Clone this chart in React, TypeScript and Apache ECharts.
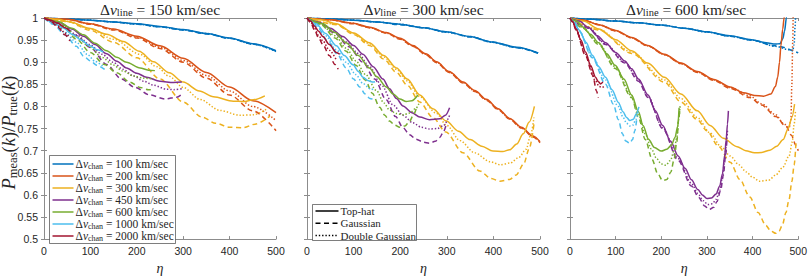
import React, { useEffect, useRef } from "react";
import * as echarts from "echarts";

// ---------- categories / labels ----------
const LINE_SPEEDS = [150, 300, 600];
const CHAN_SPEEDS = [100, 200, 300, 450, 600, 1000, 2000];
const PROFILE_NAMES = ["Top-hat", "Gaussian", "Double Gaussian"];
const X_MIN = 0, X_MAX = 500, X_STEP = 100;
const Y_MIN = 0.5, Y_MAX = 1, Y_STEP = 0.05;

// ---------- data: [eta, Pmeas/Ptrue]  (TH = top-hat, G = Gaussian, DG = double Gaussian) ----------
// Δv_line = 150 km/sec
const L150_C100_TH = [[0,1],[50,0.998],[100,0.995],[150,0.991],[200,0.987],[250,0.981],[300,0.974],[350,0.965],[400,0.955],[450,0.942],[500,0.926]];
const L150_C100_G = [[0,1],[50,0.998],[100,0.995],[150,0.991],[200,0.986],[250,0.98],[300,0.973],[350,0.964],[400,0.954],[450,0.941],[500,0.925]];
const L150_C100_DG = [[0,1],[50,0.998],[100,0.995],[150,0.991],[200,0.986],[250,0.98],[300,0.973],[350,0.965],[400,0.954],[450,0.941],[500,0.924]];
const L150_C200_TH = [[0,1],[50,0.997],[100,0.987],[150,0.975],[200,0.959],[250,0.937],[300,0.909],[350,0.877],[400,0.844],[450,0.813],[500,0.786]];
const L150_C200_G = [[0,1],[50,0.997],[100,0.986],[150,0.973],[200,0.955],[250,0.931],[300,0.9],[350,0.864],[400,0.826],[450,0.79],[500,0.745]];
const L150_C200_DG = [[0,1],[50,0.997],[100,0.987],[150,0.974],[200,0.957],[250,0.934],[300,0.904],[350,0.87],[400,0.835],[450,0.8],[500,0.768]];
const L150_C300_TH = [[0,1],[30,0.997],[56,0.991],[100,0.976],[135,0.963],[171,0.947],[205,0.925],[236,0.901],[270,0.876],[300,0.855],[335,0.835],[365,0.822],[408,0.812],[430,0.811],[451,0.815],[476,0.824]];
const L150_C300_G = [[0,1],[50,0.992],[100,0.972],[150,0.945],[200,0.91],[250,0.862],[300,0.81],[340,0.776],[370,0.762],[400,0.753],[430,0.752],[455,0.76],[487,0.778]];
const L150_C300_DG = [[0,1],[50,0.993],[100,0.975],[150,0.952],[207,0.918],[243,0.89],[270,0.868],[300,0.843],[336,0.816],[379,0.791],[422,0.78],[451,0.781],[480,0.794]];
const L150_C450_TH = [[0,1],[34,0.99],[60,0.975],[85,0.959],[110,0.94],[135,0.919],[157,0.902],[178,0.887],[200,0.875],[221,0.866],[250,0.857],[279,0.854],[297,0.855]];
const L150_C450_G = [[0,1],[40,0.983],[70,0.96],[100,0.933],[135,0.895],[167,0.862],[196,0.843],[228,0.826],[261,0.817],[286,0.821],[295,0.826]];
const L150_C450_DG = [[0,1],[40,0.985],[70,0.962],[99,0.94],[125,0.918],[149,0.9],[170,0.884],[193,0.869],[215,0.857],[236,0.848],[264,0.839],[280,0.838],[297,0.84]];
const L150_C600_TH = [[0,1],[30,0.992],[60,0.977],[85,0.962],[110,0.943],[135,0.926],[157,0.911],[178,0.9],[207,0.887],[225,0.882],[239,0.881]];
const L150_C600_G = [[0,1],[40,0.982],[70,0.952],[100,0.922],[130,0.895],[157,0.876],[185,0.855],[207,0.843],[225,0.838],[236,0.837]];
const L150_C600_DG = [[0,1],[40,0.984],[70,0.958],[99,0.934],[125,0.911],[149,0.894],[170,0.88],[193,0.869],[215,0.864],[236,0.862]];
const L150_C1000_TH = [[0,1],[20,0.99],[40,0.978],[63,0.962],[80,0.95],[99,0.937],[115,0.928],[128,0.923]];
const L150_C1000_G = [[0,1],[20,0.986],[45,0.962],[70,0.936],[85,0.914],[100,0.903],[114,0.893],[135,0.88]];
const L150_C1000_DG = [[0,1],[20,0.988],[45,0.968],[70,0.945],[93,0.918],[110,0.902],[128,0.89]];
const L150_C2000_TH = [[0,1],[15,0.995],[30,0.988],[45,0.978],[56,0.97]];
const L150_C2000_G = [[0,1],[15,0.992],[30,0.979],[45,0.962],[56,0.948]];
const L150_C2000_DG = [[0,1],[15,0.993],[30,0.982],[45,0.966],[56,0.955]];

// Δv_line = 300 km/sec
const L300_C100_TH = [[0,1],[50,0.998],[100,0.995],[150,0.991],[199,0.986],[250,0.978],[298,0.969],[350,0.958],[396,0.946],[450,0.934],[496,0.921]];
const L300_C100_G = [[0,1],[50,0.998],[100,0.995],[150,0.991],[199,0.985],[250,0.978],[298,0.969],[350,0.957],[396,0.946],[450,0.933],[496,0.92]];
const L300_C100_DG = [[0,1],[50,0.998],[100,0.995],[150,0.991],[199,0.986],[250,0.978],[298,0.968],[350,0.958],[396,0.945],[450,0.933],[496,0.921]];
const L300_C200_TH = [[0,1],[50,0.996],[99,0.988],[135,0.979],[170,0.967],[200,0.954],[227,0.938],[255,0.919],[278,0.901],[305,0.879],[335,0.855],[360,0.836],[385,0.816],[410,0.795],[435,0.773],[460,0.753],[485,0.733],[500,0.72]];
const L300_C200_G = [[0,1],[50,0.996],[99,0.987],[135,0.978],[170,0.966],[200,0.952],[227,0.936],[255,0.917],[278,0.899],[305,0.877],[335,0.853],[360,0.834],[385,0.814],[410,0.793],[435,0.771],[460,0.751],[485,0.731],[500,0.718]];
const L300_C200_DG = [[0,1],[50,0.996],[99,0.988],[135,0.978],[170,0.966],[200,0.953],[227,0.937],[255,0.918],[278,0.9],[305,0.878],[335,0.854],[360,0.835],[385,0.815],[410,0.794],[435,0.772],[460,0.752],[485,0.732],[500,0.719]];
const L300_C300_TH = [[0,1],[30,0.996],[63,0.987],[100,0.966],[134,0.944],[165,0.915],[192,0.887],[215,0.862],[242,0.826],[270,0.795],[299,0.767],[325,0.744],[350,0.725],[375,0.71],[399,0.699],[420,0.698],[435,0.702],[450,0.715],[464,0.738],[477,0.765],[488,0.8]];
const L300_C300_G = [[0,1],[63,0.985],[100,0.963],[134,0.938],[165,0.907],[192,0.877],[215,0.848],[242,0.81],[270,0.775],[298,0.742],[335,0.695],[371,0.654],[395,0.637],[414,0.631],[435,0.635],[449,0.645],[465,0.67],[477,0.705],[487,0.76]];
const L300_C300_DG = [[0,1],[63,0.986],[100,0.965],[134,0.942],[165,0.912],[192,0.884],[215,0.858],[242,0.822],[277,0.785],[300,0.757],[328,0.723],[360,0.695],[393,0.675],[415,0.668],[436,0.672],[455,0.685],[470,0.703],[480,0.735],[487,0.775]];
const L300_C450_TH = [[0,1],[27,0.99],[50,0.977],[77,0.958],[100,0.938],[120,0.918],[142,0.89],[163,0.862],[177,0.84],[192,0.818],[206,0.801],[225,0.786],[242,0.776],[263,0.77],[285,0.772],[297,0.78],[306,0.797]];
const L300_C450_G = [[0,1],[30,0.987],[60,0.965],[90,0.935],[120,0.9],[145,0.862],[170,0.815],[190,0.777],[206,0.752],[220,0.736],[234,0.726],[250,0.719],[263,0.717],[275,0.721],[285,0.73],[293,0.743],[299,0.76]];
const L300_C450_DG = [[0,1],[30,0.988],[60,0.968],[84,0.946],[110,0.92],[134,0.89],[160,0.848],[185,0.803],[206,0.78],[227,0.763],[245,0.753],[263,0.749],[280,0.75],[292,0.756],[306,0.78]];
const L300_C600_TH = [[0,1],[34,0.987],[60,0.967],[84,0.944],[110,0.915],[134,0.887],[150,0.867],[170,0.844],[185,0.828],[199,0.817],[213,0.811],[225,0.813],[238,0.826]];
const L300_C600_G = [[0,1],[30,0.985],[60,0.955],[84,0.925],[105,0.893],[125,0.86],[140,0.83],[156,0.798],[167,0.78],[177,0.767],[188,0.758],[199,0.753],[210,0.756],[220,0.766],[228,0.78],[236,0.8]];
const L300_C600_DG = [[0,1],[30,0.986],[60,0.96],[84,0.932],[105,0.903],[125,0.873],[149,0.836],[165,0.808],[177,0.792],[192,0.784],[206,0.781],[220,0.785],[234,0.796],[240,0.806]];
const L300_C1000_TH = [[0,1],[20,0.987],[40,0.965],[63,0.937],[80,0.915],[99,0.894],[110,0.879],[120,0.866],[132,0.858],[142,0.855],[146,0.856]];
const L300_C1000_G = [[0,1],[20,0.982],[45,0.948],[65,0.918],[84,0.887],[100,0.862],[113,0.844],[125,0.828],[135,0.818],[142,0.816]];
const L300_C1000_DG = [[0,1],[20,0.985],[40,0.96],[63,0.928],[84,0.9],[105,0.872],[120,0.852],[135,0.84],[145,0.837]];
const L300_C2000_TH = [[0,1],[8,0.993],[16,0.982],[25,0.97],[34,0.958],[48,0.94],[63,0.922],[70,0.918]];
const L300_C2000_G = [[0,1],[8,0.99],[16,0.973],[25,0.955],[34,0.94],[48,0.915],[60,0.895],[67,0.884]];
const L300_C2000_DG = [[0,1],[8,0.991],[16,0.977],[25,0.96],[34,0.948],[48,0.927],[63,0.905]];

// Δv_line = 600 km/sec
const L600_C100_TH = [[0,1],[50,0.997],[100,0.993],[150,0.989],[200,0.984],[250,0.977],[299,0.969],[350,0.96],[398,0.951],[430,0.944],[450,0.941],[460,0.942],[466,0.953],[470,0.97],[474,1.0],[478,1.04]];
const L600_C100_G = [[0,1],[50,0.997],[100,0.993],[150,0.989],[200,0.984],[250,0.977],[299,0.969],[350,0.959],[398,0.95],[450,0.937],[500,0.921]];
const L600_C100_DG = [[0,1],[50,0.997],[100,0.993],[150,0.989],[200,0.984],[250,0.977],[299,0.968],[350,0.959],[398,0.95],[450,0.936],[480,0.928],[488,0.926],[491,0.94],[493,0.98],[495,1.03]];
const L600_C200_TH = [[0,1],[30,0.995],[63,0.985],[100,0.972],[135,0.956],[170,0.938],[207,0.918],[243,0.898],[279,0.879],[315,0.861],[351,0.844],[380,0.831],[404,0.825],[424,0.823],[440,0.828],[450,0.845],[455,0.866],[459,0.9],[462,0.937],[466,0.975],[469,1.0],[472,1.03]];
const L600_C200_G = [[0,1],[30,0.995],[63,0.985],[100,0.971],[135,0.955],[170,0.937],[207,0.917],[243,0.897],[279,0.877],[315,0.859],[351,0.841],[394,0.82],[420,0.803],[451,0.777],[473,0.755],[485,0.735],[495,0.712],[500,0.7]];
const L600_C200_DG = [[0,1],[30,0.995],[63,0.985],[100,0.971],[135,0.955],[170,0.937],[207,0.917],[243,0.897],[279,0.878],[315,0.86],[351,0.843],[394,0.824],[420,0.806],[451,0.781],[467,0.762],[480,0.752],[484,0.77],[486,0.85],[488,0.95],[489,1.02]];
const L600_C300_TH = [[0,1],[30,0.993],[63,0.975],[100,0.951],[135,0.926],[170,0.898],[207,0.866],[243,0.828],[279,0.79],[307,0.757],[336,0.728],[366,0.709],[385,0.7],[404,0.695],[420,0.696],[438,0.701],[453,0.71],[467,0.725],[478,0.75],[486,0.775],[492,0.805]];
const L600_C300_G = [[0,1],[63,0.973],[135,0.92],[207,0.855],[243,0.81],[279,0.77],[300,0.745],[325,0.71],[351,0.674],[372,0.635],[394,0.595],[412,0.56],[429,0.531],[440,0.518],[451,0.513],[458,0.518],[465,0.531],[473,0.56],[480,0.59],[486,0.63],[491,0.667],[495,0.717]];
const L600_C300_DG = [[0,1],[63,0.974],[135,0.923],[207,0.86],[243,0.818],[279,0.775],[307,0.74],[330,0.71],[351,0.688],[370,0.668],[386,0.652],[400,0.64],[415,0.631],[435,0.633],[451,0.645],[466,0.662],[480,0.688],[487,0.72],[491,0.76],[494,0.79]];
const L600_C450_TH = [[0,1],[20,0.993],[40,0.979],[60,0.96],[78,0.944],[100,0.922],[120,0.903],[135,0.885],[150,0.862],[171,0.826],[187,0.79],[203,0.757],[220,0.722],[237,0.688],[252,0.66],[266,0.634],[280,0.612],[290,0.6],[300,0.592],[310,0.593],[320,0.602],[328,0.62],[334,0.648],[339,0.69],[342,0.724],[345,0.76],[347,0.79]];
const L600_C450_G = [[0,1],[40,0.977],[78,0.94],[120,0.898],[150,0.857],[171,0.82],[203,0.75],[237,0.678],[266,0.62],[282,0.594],[295,0.575],[305,0.567],[315,0.572],[322,0.585],[330,0.61],[336,0.645],[341,0.69],[344,0.73]];
const L600_C450_DG = [[0,1],[40,0.978],[78,0.942],[120,0.9],[150,0.86],[171,0.822],[203,0.752],[237,0.682],[266,0.626],[280,0.603],[292,0.587],[302,0.578],[312,0.58],[320,0.59],[328,0.61],[334,0.64],[339,0.68],[343,0.72],[345,0.745]];
const L600_C600_TH = [[0,1],[15,0.993],[27,0.98],[45,0.963],[63,0.944],[80,0.92],[99,0.893],[118,0.862],[135,0.826],[150,0.788],[160,0.757],[172,0.726],[185,0.707],[200,0.699],[212,0.703],[222,0.712],[230,0.73],[236,0.755],[239,0.797]];
const L600_C600_G = [[0,1],[27,0.978],[63,0.94],[99,0.886],[135,0.82],[150,0.775],[165,0.725],[180,0.68],[192,0.648],[203,0.632],[212,0.635],[221,0.652],[228,0.68],[234,0.72],[238,0.77],[241,0.8]];
const L600_C600_DG = [[0,1],[27,0.979],[63,0.942],[99,0.89],[135,0.824],[150,0.782],[165,0.738],[178,0.704],[190,0.682],[200,0.67],[210,0.667],[220,0.678],[228,0.7],[234,0.73],[238,0.77],[241,0.8]];
const L600_C1000_TH = [[0,1],[10,0.99],[20,0.973],[35,0.945],[49,0.916],[63,0.89],[78,0.866],[92,0.838],[106,0.809],[116,0.788],[124,0.775],[131,0.768],[139,0.771],[145,0.783],[151,0.799]];
const L600_C1000_G = [[0,1],[10,0.988],[20,0.97],[49,0.91],[78,0.85],[95,0.805],[106,0.77],[115,0.738],[122,0.722],[131,0.717],[137,0.725],[142,0.745],[146,0.77]];
const L600_C1000_DG = [[0,1],[10,0.989],[20,0.971],[49,0.912],[78,0.86],[106,0.8],[116,0.776],[124,0.762],[131,0.756],[138,0.758],[144,0.77],[150,0.79]];
const L600_C2000_TH = [[0,1],[6,0.992],[13,0.976],[24,0.95],[34,0.923],[45,0.893],[56,0.866],[62,0.856],[67,0.851],[72,0.855]];
const L600_C2000_G = [[0,1],[6,0.991],[13,0.973],[34,0.915],[50,0.87],[58,0.835],[62,0.82]];
const L600_C2000_DG = [[0,1],[6,0.991],[13,0.974],[34,0.918],[56,0.858],[64,0.845],[70,0.843],[74,0.845]];

const PANELS = [
  [[L150_C100_TH, L150_C100_G, L150_C100_DG], [L150_C200_TH, L150_C200_G, L150_C200_DG], [L150_C300_TH, L150_C300_G, L150_C300_DG], [L150_C450_TH, L150_C450_G, L150_C450_DG], [L150_C600_TH, L150_C600_G, L150_C600_DG], [L150_C1000_TH, L150_C1000_G, L150_C1000_DG], [L150_C2000_TH, L150_C2000_G, L150_C2000_DG]],
  [[L300_C100_TH, L300_C100_G, L300_C100_DG], [L300_C200_TH, L300_C200_G, L300_C200_DG], [L300_C300_TH, L300_C300_G, L300_C300_DG], [L300_C450_TH, L300_C450_G, L300_C450_DG], [L300_C600_TH, L300_C600_G, L300_C600_DG], [L300_C1000_TH, L300_C1000_G, L300_C1000_DG], [L300_C2000_TH, L300_C2000_G, L300_C2000_DG]],
  [[L600_C100_TH, L600_C100_G, L600_C100_DG], [L600_C200_TH, L600_C200_G, L600_C200_DG], [L600_C300_TH, L600_C300_G, L600_C300_DG], [L600_C450_TH, L600_C450_G, L600_C450_DG], [L600_C600_TH, L600_C600_G, L600_C600_DG], [L600_C1000_TH, L600_C1000_G, L600_C1000_DG], [L600_C2000_TH, L600_C2000_G, L600_C2000_DG]],
];

// ---------- styling ----------
const COLORS = ["#0072BD", "#D95319", "#EDB120", "#7E2F8E", "#77AC30", "#4DBEEE", "#A2142F"];
const DASHES: any[] = ["solid", [5, 3.5], [1.4, 1.9]];
const GRID_LEFTS = [44, 307, 570];
const GRID_WIDTHS = [232, 233, 232];
const GRID_TOP = 18;
const GRID_HEIGHT = 233;
const AXIS_COLOR = "#8c8c8c";
const TEXT_COLOR = "#262626";
const SERIF = "Liberation Serif";
const SANS = "Liberation Sans";

function richStyles(size: number, subSize: number, lh: number, subLh: number) {
  return {
    n: { font: `${size}px ${SERIF}`, fontFamily: SERIF, fontSize: size, lineHeight: lh, fill: TEXT_COLOR },
    i: { font: `italic ${size}px ${SERIF}`, fontFamily: SERIF, fontSize: size, fontStyle: "italic", lineHeight: lh, fill: TEXT_COLOR },
    s: { font: `${subSize}px ${SERIF}`, fontFamily: SERIF, fontSize: subSize, lineHeight: subLh, verticalAlign: "bottom", fill: TEXT_COLOR },
  };
}

export default function App() {
  const ref = useRef<HTMLDivElement>(null);
  useEffect(() => {
    if (!ref.current) return;
    const chart = echarts.init(ref.current, null, { renderer: "svg" });

    const grids: any[] = [];
    const xAxes: any[] = [];
    const yAxes: any[] = [];
    const series: any[] = [];

    LINE_SPEEDS.forEach((_, p) => {
      grids.push({ left: GRID_LEFTS[p], top: GRID_TOP, width: GRID_WIDTHS[p], height: GRID_HEIGHT, show: false });
      const axisLine = { show: true, lineStyle: { color: AXIS_COLOR, width: 1 } };
      const tick = { show: true, inside: true, length: 3, lineStyle: { color: AXIS_COLOR, width: 1 } };
      xAxes.push({
        gridIndex: p, type: "value", position: "bottom", min: X_MIN, max: X_MAX, interval: X_STEP,
        axisLine, axisTick: tick, splitLine: { show: false },
        axisLabel: { color: TEXT_COLOR, fontFamily: SANS, fontSize: 10.5, margin: 6 },
        name: "η", nameLocation: "middle", nameGap: 15,
        nameTextStyle: { fontFamily: SERIF, fontStyle: "italic", fontSize: 14, color: TEXT_COLOR },
      });
      xAxes.push({
        gridIndex: p, type: "value", position: "top", min: X_MIN, max: X_MAX, interval: X_STEP,
        axisLine, axisTick: tick, splitLine: { show: false }, axisLabel: { show: false },
      });
      yAxes.push({
        gridIndex: p, type: "value", position: "left", min: Y_MIN, max: Y_MAX, interval: Y_STEP,
        axisLine, axisTick: tick, splitLine: { show: false },
        axisLabel: {
          show: p === 0, color: TEXT_COLOR, fontFamily: SANS, fontSize: 10.5, margin: 6,
          formatter: (v: number) => String(+v.toFixed(2)),
        },
      });
      yAxes.push({
        gridIndex: p, type: "value", position: "right", min: Y_MIN, max: Y_MAX, interval: Y_STEP,
        axisLine, axisTick: tick, splitLine: { show: false }, axisLabel: { show: false },
      });

      PANELS[p].forEach((triple, c) => {
        triple.forEach((data, s) => {
          series.push({
            type: "line",
            name: `L${LINE_SPEEDS[p]} C${CHAN_SPEEDS[c]} ${PROFILE_NAMES[s]}`,
            xAxisIndex: p * 2,
            yAxisIndex: p * 2,
            data,
            symbol: "none",
            showSymbol: false,
            smooth: 0.3,
            smoothMonotone: "x",
            clip: true,
            silent: true,
            lineStyle: { color: COLORS[c], width: 1.5, type: DASHES[s] },
          });
        });
      });
    });

    const graphics: any[] = [];
    // titles
    LINE_SPEEDS.forEach((v, p) => {
      graphics.push({
        type: "text",
        x: GRID_LEFTS[p] + GRID_WIDTHS[p] / 2,
        y: 9,
        z: 100,
        style: {
          text: `{n|Δ}{i|v}{s|line}{n| = ${v} km/sec}`,
          rich: richStyles(15.5, 10.5, 18, 7),
          align: "center",
          verticalAlign: "middle",
        },
      });
    });
    // y label
    graphics.push({
      type: "text",
      x: 9,
      y: GRID_TOP + GRID_HEIGHT / 2 - 2,
      rotation: Math.PI / 2,
      z: 100,
      style: {
        text: "{i|P}{s|meas}{n|(}{i|k}{n|)/}{i|P}{s|true}{n|(}{i|k}{n|)}",
        rich: richStyles(18.5, 12.5, 20, 8),
        align: "center",
        verticalAlign: "middle",
      },
    });
    // legend 1: channel widths
    const L1X = 49.5, L1Y = 155.5, L1W = 126, L1H = 88, L1ROW = 12;
    graphics.push({
      type: "rect", z: 100,
      shape: { x: L1X, y: L1Y, width: L1W, height: L1H },
      style: { fill: "#ffffff", stroke: "#262626", lineWidth: 0.6 },
    });
    CHAN_SPEEDS.forEach((v, i) => {
      const y = L1Y + 8.5 + i * L1ROW;
      graphics.push({
        type: "line", z: 101,
        shape: { x1: L1X + 3, y1: y, x2: L1X + 24, y2: y },
        style: { stroke: COLORS[i], lineWidth: 1.5 },
      });
      graphics.push({
        type: "text", z: 101, x: L1X + 26, y,
        style: {
          text: `{n|Δ}{i|v}{s|chan}{n| = ${v} km/sec}`,
          rich: richStyles(11.5, 8, 13, 5),
          align: "left",
          verticalAlign: "middle",
        },
      });
    });
    // legend 2: profiles
    const L2X = 312.5, L2Y = 204.5, L2W = 104, L2H = 36, L2ROW = 12.3;
    graphics.push({
      type: "rect", z: 100,
      shape: { x: L2X, y: L2Y, width: L2W, height: L2H },
      style: { fill: "#ffffff", stroke: "#262626", lineWidth: 0.6 },
    });
    PROFILE_NAMES.forEach((name, i) => {
      const y = L2Y + 6.5 + i * L2ROW;
      graphics.push({
        type: "line", z: 101,
        shape: { x1: L2X + 3, y1: y, x2: L2X + 26, y2: y },
        style: { stroke: "#000000", lineWidth: 1.5, lineDash: i === 0 ? null : DASHES[i] },
      });
      graphics.push({
        type: "text", z: 101, x: L2X + 28, y,
        style: {
          text: name,
          font: `11px ${SERIF}`,
          fill: TEXT_COLOR,
          align: "left",
          verticalAlign: "middle",
        },
      });
    });

    chart.setOption({
      animation: false,
      backgroundColor: "#ffffff",
      grid: grids,
      xAxis: xAxes,
      yAxis: yAxes,
      series,
      graphic: graphics,
    });
    return () => chart.dispose();
  }, []);

  return (
    <div
      ref={ref}
      style={{ position: "fixed", left: 0, top: 0, width: 810, height: 280, background: "#fff" }}
    />
  );
}
